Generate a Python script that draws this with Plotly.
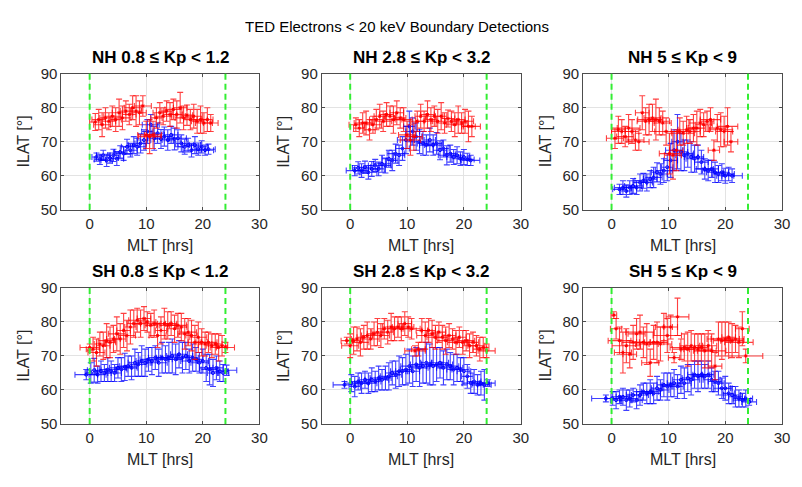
import plotly.graph_objects as go

# ---------------- data ----------------
titles = ["NH 0.8 \u2264 Kp < 1.2", "NH 2.8 \u2264 Kp < 3.2", "NH 5 \u2264 Kp < 9",
          "SH 0.8 \u2264 Kp < 1.2", "SH 2.8 \u2264 Kp < 3.2", "SH 5 \u2264 Kp < 9"]
main_title = "TED Electrons < 20 keV Boundary Detections"
x_ticks = [0, 10, 20, 30]
y_ticks = [50, 60, 70, 80, 90]
x_range = [-5, 30]
y_range = [50, 90]
mlt_lines = [0, 24]

# Panel 1: NH 0.8<=Kp<1.2
p1_blue_x = [1.2,1.8,2.4,3.0,3.6,4.2,4.8,5.4,6.0,6.6,7.2,7.8,8.4,9.0,9.6,10.2,10.8,11.4,12.0,12.6,13.2,13.8,14.4,15.0,15.6,16.2,16.8,17.4,18.0,18.6,19.2,19.8,20.4,21.0]
p1_blue_y = [65.5,64.8,66.0,64.5,65.2,66.0,65.0,67.0,66.5,68.5,67.5,69.0,68.5,69.5,70.5,73.0,75.0,71.0,72.5,70.8,71.5,70.5,72.0,70.8,71.0,69.5,68.5,69.0,67.5,69.0,67.8,68.5,67.5,67.8]
p1_blue_ye = [1.2,1.5,1.5,1.8,1.5,1.8,2.0,1.8,2.0,2.2,2.0,2.5,2.5,2.8,3.0,3.5,3.0,3.5,3.0,2.8,2.8,3.0,2.5,3.2,2.5,2.5,2.2,2.0,2.0,2.5,1.8,1.8,1.5,1.5]
p1_blue_xe = [0.8,1.0,1.2,1.0,1.5,1.0,1.2,1.0,1.5,1.0,1.2,1.0,1.5,1.0,1.2,1.0,1.5,1.2,1.0,1.2,1.5,1.0,1.2,1.0,1.5,1.0,1.2,1.0,1.5,1.0,1.2,1.0,1.5,1.2]
p1_red_x = [1.0,1.6,2.2,2.8,3.4,4.0,4.6,5.2,5.8,6.4,7.0,7.6,8.2,8.8,9.4,10.0,10.6,11.2,11.8,12.4,13.0,13.6,14.2,14.8,15.4,16.0,16.6,17.2,17.8,18.4,19.0,19.6,20.2,20.8,21.4]
p1_red_y = [75.8,76.5,75.0,77.0,76.0,77.5,76.5,78.5,77.0,79.0,78.0,80.0,79.0,78.5,80.5,72.0,71.5,72.0,77.0,78.5,77.5,79.0,78.0,79.5,78.0,80.0,77.0,77.8,76.5,77.5,76.0,76.5,75.5,76.5,75.5]
p1_red_ye = [2.5,3.0,3.5,3.0,2.5,3.0,3.5,4.0,3.5,3.0,3.0,3.5,4.5,3.5,3.0,4.0,5.0,4.0,3.0,3.0,2.5,3.0,3.5,3.0,4.0,4.5,3.5,3.0,3.0,3.5,3.5,4.0,3.0,3.5,2.5]
p1_red_xe = [1.0,1.2,1.5,1.0,1.2,1.5,1.0,1.2,1.5,1.0,1.2,1.5,1.0,1.2,1.5,1.5,2.0,1.5,1.0,1.2,1.5,1.0,1.2,1.5,1.0,1.2,1.5,1.0,1.2,1.5,1.0,1.2,1.5,1.0,1.3]

# Panel 2: NH 2.8<=Kp<3.2
p2_blue_x = [0.8,1.4,2.0,2.6,3.2,3.8,4.4,5.0,5.6,6.2,6.8,7.4,8.0,8.6,9.2,9.8,10.4,11.0,11.6,12.2,12.8,13.4,14.0,14.6,15.2,15.8,16.4,17.0,17.6,18.2,18.8,19.4,20.0,20.6,21.2]
p2_blue_y = [61.5,62.3,61.5,62.5,61.0,62.0,63.0,62.0,63.5,63.0,65.0,64.5,66.5,66.0,68.0,70.5,74.5,73.0,71.5,70.0,69.5,69.0,70.5,69.0,69.5,67.5,68.0,66.0,66.5,65.5,66.0,65.0,65.5,64.8,64.5]
p2_blue_ye = [1.5,1.8,2.0,1.8,2.0,2.2,1.8,2.0,2.5,2.2,2.5,3.0,2.8,3.0,3.5,4.0,4.5,4.0,4.0,3.5,3.5,3.0,3.5,3.0,3.2,2.8,2.5,2.8,2.5,2.2,2.5,2.0,2.2,1.8,1.5]
p2_blue_xe = [1.5,1.0,1.2,1.0,1.5,1.0,1.2,1.0,1.5,1.0,1.2,1.0,1.5,1.0,1.2,1.5,1.0,1.2,1.0,1.5,1.0,1.2,1.0,1.5,1.0,1.2,1.0,1.5,1.0,1.2,1.0,1.5,1.0,1.2,1.6]
p2_red_x = [1.0,1.6,2.2,2.8,3.4,4.0,4.6,5.2,5.8,6.4,7.0,7.6,8.2,8.8,9.4,10.0,10.6,11.2,11.8,12.4,13.0,13.6,14.2,14.8,15.4,16.0,16.6,17.2,17.8,18.4,19.0,19.6,20.2,20.8,21.4]
p2_red_y = [75.0,74.0,75.5,75.5,73.5,75.0,76.5,77.5,76.0,78.0,77.5,76.5,78.5,77.0,76.5,72.0,70.5,71.5,76.0,77.5,76.0,78.0,76.5,77.5,76.0,77.5,75.5,76.8,76.0,75.0,76.5,75.5,76.0,74.5,74.5]
p2_red_ye = [2.0,2.5,3.0,3.5,3.0,2.5,3.0,3.5,3.0,3.5,3.0,4.0,3.5,3.0,3.5,4.0,4.5,4.0,3.0,3.5,3.0,4.0,3.5,3.0,3.5,4.0,3.0,2.5,3.0,3.5,4.0,3.0,3.5,4.5,3.0]
p2_red_xe = [1.2,1.0,1.5,1.2,1.0,1.5,1.2,1.0,1.5,1.2,1.0,1.5,1.2,1.0,1.5,1.5,1.8,1.5,1.2,1.0,1.5,1.2,1.0,1.5,1.2,1.0,1.5,1.2,1.0,1.5,1.2,1.0,1.5,1.2,1.5]

# Panel 3: NH 5<=Kp<9
p3_blue_x = [1.4,2.0,2.6,3.2,3.8,4.4,5.0,5.6,6.2,6.8,7.4,8.0,8.6,9.2,9.8,10.4,11.0,11.6,12.2,12.8,13.4,14.0,14.6,15.2,15.8,16.4,17.0,17.6,18.2,18.8,19.4,20.0,20.6,21.2]
p3_blue_y = [56.0,56.5,55.5,56.5,57.0,56.5,58.0,58.5,58.0,59.0,59.5,61.0,60.5,61.5,62.5,64.5,67.5,70.0,67.0,66.0,66.5,65.5,65.0,65.5,64.0,62.0,61.5,62.0,61.0,60.5,61.0,60.0,60.5,60.0]
p3_blue_ye = [1.5,2.0,1.8,2.0,2.2,2.0,2.5,2.2,2.5,2.5,3.0,2.8,3.0,3.5,4.0,5.0,6.0,8.0,5.5,4.5,4.0,4.5,4.0,3.5,3.5,3.0,3.0,2.5,3.0,2.5,2.5,2.2,2.0,2.0]
p3_blue_xe = [1.2,1.5,1.0,1.2,1.5,1.0,1.2,1.5,1.0,1.2,1.5,1.0,1.2,1.5,1.0,1.2,1.5,1.0,1.2,1.5,1.0,1.2,1.5,1.0,1.2,1.5,1.0,1.2,1.5,1.0,1.2,1.5,1.0,1.8]
p3_red_x = [0.6,1.2,1.8,2.4,3.0,3.6,4.2,4.8,5.4,6.0,6.6,7.2,7.8,8.4,9.0,9.6,10.2,10.8,11.4,12.0,12.6,13.2,13.8,14.4,15.0,15.6,16.2,16.8,17.4,18.0,18.6,19.2,19.8,20.4,21.0]
p3_red_y = [71.0,73.5,73.0,71.5,74.0,73.0,70.5,70.0,78.5,76.0,76.5,77.0,76.5,76.0,75.5,73.0,66.5,66.0,67.5,73.0,72.5,73.5,73.0,74.0,74.0,75.5,75.0,76.0,76.5,67.5,74.0,73.5,73.0,74.5,70.0]
p3_red_ye = [3.0,4.0,3.5,3.0,4.0,3.5,3.0,2.5,5.0,4.0,4.5,4.0,6.0,4.0,3.5,4.0,6.0,7.0,6.0,4.0,3.5,4.0,3.5,4.0,5.0,4.0,3.5,3.0,3.5,3.0,4.0,5.0,4.5,5.5,3.0]
p3_red_xe = [1.5,1.2,1.8,1.5,2.0,1.2,1.5,1.8,1.2,1.5,2.0,1.5,1.2,1.8,1.5,2.0,1.8,1.5,1.2,1.5,2.0,1.5,1.8,1.2,1.5,2.0,1.5,1.2,1.8,1.0,1.5,2.0,1.5,1.8,1.2]

# Panel 4: SH 0.8<=Kp<1.2
p4_blue_x = [-0.6,0.2,0.8,1.4,2.0,2.6,3.2,3.8,4.4,5.0,5.6,6.2,6.8,7.4,8.0,8.6,9.2,9.8,10.4,11.0,11.6,12.2,12.8,13.4,14.0,14.6,15.2,15.8,16.4,17.0,17.6,18.2,18.8,19.4,20.0,20.6,21.2,21.8,22.4,23.0,23.6,24.2]
p4_blue_y = [64.5,65.0,65.8,64.5,65.5,65.0,66.0,65.5,65.0,66.5,66.0,66.8,67.0,66.5,68.0,67.5,68.5,68.0,69.0,68.5,69.5,68.0,69.5,69.0,69.5,70.0,69.0,70.5,69.5,70.0,68.5,69.5,69.0,68.0,68.5,66.5,66.0,65.0,66.5,65.5,65.0,65.8]
p4_blue_ye = [1.5,3.0,3.5,2.5,3.0,2.5,3.5,3.0,2.5,3.0,3.5,4.0,3.0,3.5,4.0,3.5,4.5,4.0,3.5,4.0,3.5,4.0,4.5,4.0,4.5,5.0,4.5,4.0,4.5,4.0,3.5,4.0,3.5,3.0,3.5,4.0,4.5,4.0,3.5,3.0,2.5,1.5]
p4_blue_xe = [2.0,1.0,1.2,1.5,1.0,1.2,1.5,1.0,1.2,1.5,1.0,1.2,1.5,1.0,1.2,1.5,1.0,1.2,1.5,1.0,1.2,1.5,1.0,1.2,1.5,1.0,1.2,1.5,1.0,1.2,1.5,1.0,1.2,1.5,1.0,1.2,1.5,1.0,1.2,1.5,1.0,1.8]
p4_red_x = [0.0,0.6,1.2,1.8,2.4,3.0,3.6,4.2,4.8,5.4,6.0,6.6,7.2,7.8,8.4,9.0,9.6,10.2,10.8,11.4,12.0,12.6,13.2,13.8,14.4,15.0,15.6,16.2,16.8,17.4,18.0,18.6,19.2,19.8,20.4,21.0,21.6,22.2,22.8,23.4,24.0]
p4_red_y = [72.5,72.0,71.0,73.5,73.0,74.5,74.0,75.0,76.5,75.0,77.5,76.0,78.5,79.5,80.5,79.5,81.0,80.0,79.0,79.5,76.0,77.5,79.5,79.0,79.5,78.0,79.0,78.5,76.5,77.0,76.0,74.0,75.5,74.0,73.5,74.0,73.0,73.5,72.5,73.0,72.5]
p4_red_ye = [1.0,3.5,4.0,3.5,4.0,5.0,4.5,4.0,5.0,4.5,5.0,4.5,5.0,4.0,3.5,4.0,3.5,3.0,3.5,4.0,3.5,4.0,4.5,4.0,3.5,4.0,3.5,4.0,4.5,4.0,4.5,5.0,4.5,4.0,3.5,3.0,3.5,3.0,4.0,3.0,1.5]
p4_red_xe = [1.7,1.2,1.5,1.0,1.2,1.5,1.0,1.2,1.5,1.0,1.2,1.5,1.0,1.2,1.5,1.0,1.2,1.5,1.0,1.2,1.5,1.0,1.2,1.5,1.0,1.2,1.5,1.0,1.2,1.5,1.0,1.2,1.5,1.0,1.2,1.5,1.0,1.2,1.5,1.0,1.6]

# Panel 5: SH 2.8<=Kp<3.2
p5_blue_x = [-1.0,0.2,0.8,1.4,2.0,2.6,3.2,3.8,4.4,5.0,5.6,6.2,6.8,7.4,8.0,8.6,9.2,9.8,10.4,11.0,11.6,12.2,12.8,13.4,14.0,14.6,15.2,15.8,16.4,17.0,17.6,18.2,18.8,19.4,20.0,20.6,21.2,21.8,22.4,23.0,23.6,24.2]
p5_blue_y = [61.5,62.0,61.0,62.5,62.0,63.0,62.0,63.0,62.5,63.5,63.0,63.5,64.0,65.0,64.5,65.5,65.5,66.0,67.0,65.5,67.5,66.5,67.0,68.0,67.5,67.0,67.5,68.0,66.5,67.5,67.0,66.0,66.5,66.0,65.5,64.0,62.0,62.5,61.5,62.0,61.5,62.0]
p5_blue_ye = [1.0,2.5,3.0,2.5,3.0,2.5,3.0,3.5,3.0,3.5,3.0,3.5,4.0,3.5,4.0,4.5,4.0,4.5,5.0,4.5,5.0,5.5,5.0,6.0,6.0,5.5,5.0,4.5,5.0,4.5,4.0,4.5,4.0,3.5,4.0,3.5,3.0,3.5,3.0,3.5,4.5,1.0]
p5_blue_xe = [2.0,1.2,1.0,1.5,1.2,1.0,1.5,1.2,1.0,1.5,1.2,1.0,1.5,1.2,1.0,1.5,1.2,1.0,1.5,1.2,1.0,1.5,1.2,1.0,1.5,1.2,1.0,1.5,1.2,1.0,1.5,1.2,1.0,1.5,1.2,1.0,1.5,1.2,1.0,1.5,1.2,1.3]
p5_red_x = [-0.6,0.0,0.6,1.2,1.8,2.4,3.0,3.6,4.2,4.8,5.4,6.0,6.6,7.2,7.8,8.4,9.0,9.6,10.2,10.8,11.4,12.0,12.6,13.2,13.8,14.4,15.0,15.6,16.2,16.8,17.4,18.0,18.6,19.2,19.8,20.4,21.0,21.6,22.2,22.8,23.4,24.0]
p5_red_y = [74.5,73.0,74.5,75.0,74.0,75.5,76.0,75.0,76.5,77.0,76.0,78.0,77.0,78.5,78.0,78.5,78.0,79.5,78.5,78.0,71.5,72.0,77.5,76.0,77.5,76.5,75.5,77.0,75.5,74.5,76.0,75.0,74.0,75.5,74.0,74.5,73.0,74.0,73.0,72.0,72.5,71.5]
p5_red_ye = [1.0,3.5,4.0,3.5,4.0,3.5,4.0,3.0,3.5,4.0,3.5,3.0,3.5,4.0,3.5,3.0,3.5,3.5,3.0,3.0,1.5,2.0,3.5,4.0,3.5,4.0,3.5,3.0,3.5,4.0,3.5,3.0,3.5,3.0,3.5,3.0,3.5,3.0,3.0,3.5,3.0,2.0]
p5_red_xe = [1.0,1.5,1.2,1.0,1.5,1.2,1.0,1.5,1.2,1.0,1.5,1.2,1.0,1.5,1.2,1.0,1.5,1.2,1.0,1.5,1.8,1.2,1.0,1.5,1.2,1.0,1.5,1.2,1.0,1.5,1.2,1.0,1.5,1.2,1.0,1.5,1.2,1.0,1.5,1.2,1.0,1.5]

# Panel 6: SH 5<=Kp<9
p6_blue_x = [-1.0,0.2,0.8,1.4,2.0,2.6,3.2,3.8,4.4,5.0,5.6,6.2,6.8,7.4,8.0,8.6,9.2,9.8,10.4,11.0,11.6,12.2,12.8,13.4,14.0,14.6,15.2,15.8,16.4,17.0,17.6,18.2,18.8,19.4,20.0,20.6,21.2,21.8,22.4,23.0,23.6,24.2]
p6_blue_y = [57.5,57.5,57.0,58.0,58.0,57.0,57.5,58.5,57.0,58.5,59.5,59.0,59.5,59.0,60.5,60.0,61.5,61.0,61.5,62.0,61.0,63.0,62.0,63.5,63.0,64.5,64.0,64.5,64.0,64.5,63.0,62.5,62.0,60.5,60.5,59.0,58.5,58.0,57.5,57.0,57.5,56.5]
p6_blue_ye = [1.0,2.0,2.5,2.0,2.5,3.0,2.5,2.0,2.5,3.0,2.5,3.0,3.5,3.0,3.5,3.0,3.5,4.0,3.5,4.0,3.5,4.0,4.5,4.0,4.5,4.0,4.5,4.0,3.5,4.0,3.5,3.0,3.5,3.0,3.5,3.0,2.5,3.0,2.5,2.0,2.5,1.0]
p6_blue_xe = [2.5,1.2,1.0,1.5,1.2,1.0,1.5,1.2,1.0,1.5,1.2,1.0,1.5,1.2,1.0,1.5,1.2,1.0,1.5,1.2,1.0,1.5,1.2,1.0,1.5,1.2,1.0,1.5,1.2,1.0,1.5,1.2,1.0,1.5,1.2,1.0,1.5,1.2,1.0,1.5,1.2,1.3]
p6_red_x = [0.4,0.8,1.4,2.0,2.6,3.2,3.8,4.4,5.0,5.6,6.2,6.8,7.4,8.0,8.6,9.2,9.8,10.4,11.0,11.6,12.2,12.8,13.4,14.0,14.6,15.2,15.8,16.4,17.0,17.6,18.2,18.8,19.4,20.0,20.6,21.2,21.8,22.4,23.0,23.6]
p6_red_y = [82.0,78.0,74.5,71.0,73.0,70.5,74.0,76.5,77.0,74.0,73.5,68.0,74.0,74.0,73.5,78.5,76.0,78.5,69.5,81.5,72.0,72.5,72.0,73.0,72.5,72.0,72.5,71.5,73.0,71.5,67.0,75.0,74.5,75.0,75.5,74.5,75.0,74.0,78.0,70.0]
p6_red_ye = [1.0,3.0,4.0,6.0,5.0,4.0,5.0,4.5,5.0,4.5,6.0,4.0,5.0,6.0,5.0,4.0,5.0,3.5,1.5,5.5,3.0,4.0,5.0,4.5,4.0,4.5,4.0,5.0,4.5,5.0,4.0,5.0,5.5,5.0,4.5,5.0,4.0,4.5,5.0,2.0]
p6_red_xe = [0.5,1.0,2.0,1.5,2.5,1.2,2.0,1.5,2.5,1.2,2.0,1.5,2.5,1.2,2.0,1.5,2.5,1.2,1.0,2.0,1.5,2.5,1.2,2.0,1.5,2.5,1.2,2.0,1.5,2.5,1.2,2.0,1.5,2.5,1.2,2.0,1.5,2.5,1.2,3.0]

panels = [
    (p1_blue_x, p1_blue_y, p1_blue_xe, p1_blue_ye, p1_red_x, p1_red_y, p1_red_xe, p1_red_ye),
    (p2_blue_x, p2_blue_y, p2_blue_xe, p2_blue_ye, p2_red_x, p2_red_y, p2_red_xe, p2_red_ye),
    (p3_blue_x, p3_blue_y, p3_blue_xe, p3_blue_ye, p3_red_x, p3_red_y, p3_red_xe, p3_red_ye),
    (p4_blue_x, p4_blue_y, p4_blue_xe, p4_blue_ye, p4_red_x, p4_red_y, p4_red_xe, p4_red_ye),
    (p5_blue_x, p5_blue_y, p5_blue_xe, p5_blue_ye, p5_red_x, p5_red_y, p5_red_xe, p5_red_ye),
    (p6_blue_x, p6_blue_y, p6_blue_xe, p6_blue_ye, p6_red_x, p6_red_y, p6_red_xe, p6_red_ye),
]

# ---------------- layout / styling ----------------
W, H = 802, 487
col_px = [(62, 262), (325, 526), (589, 790)]
row_px = [(67, 208), (289, 430)]
FONT = "Liberation Sans, Arial, sans-serif"
TXT = "#262626"
BLUE = "rgba(0,0,255,0.75)"
RED = "rgba(255,0,0,0.75)"

fig = go.Figure()
annotations = []
shapes = []

for i, (bx, by, bxe, bye, rx, ry, rxe, rye) in enumerate(panels):
    r, c = divmod(i, 3)
    n = i + 1
    xa = "x" if n == 1 else f"x{n}"
    ya = "y" if n == 1 else f"y{n}"
    for (xs, ys, xe, ye, col, solid, sym) in [
        (bx, by, bxe, bye, BLUE, "#0000ff", "circle-open"),
        (rx, ry, rxe, rye, RED, "#ff0000", "asterisk-open"),
    ]:
        fig.add_trace(go.Scatter(
            x=xs, y=ys, mode="markers", xaxis=xa, yaxis=ya, showlegend=False,
            marker=dict(symbol=sym, size=3, color=solid, line=dict(width=1, color=col)),
            error_x=dict(type="data", array=xe, visible=True, color=col, thickness=1.1, width=3),
            error_y=dict(type="data", array=ye, visible=True, color=col, thickness=1.1, width=3),
        ))
    x0, x1 = col_px[c]
    y0, y1 = row_px[r]
    axis_common = dict(showgrid=True, gridcolor="#e3e3e3", gridwidth=1, zeroline=False,
                       showline=True, linecolor="#4d4d4d", linewidth=1, mirror="ticks",
                       ticks="inside", ticklen=3, tickcolor="#4d4d4d",
                       tickfont=dict(family=FONT, size=15, color=TXT))
    fig.update_layout(**{
        ("xaxis" if n == 1 else f"xaxis{n}"): dict(
            domain=[x0 / W, x1 / W], range=x_range, tickvals=x_ticks, anchor=ya, **axis_common),
        ("yaxis" if n == 1 else f"yaxis{n}"): dict(
            domain=[1 - y1 / H, 1 - y0 / H], range=y_range, tickvals=y_ticks, anchor=xa, **axis_common),
    })
    for mv in mlt_lines:
        shapes.append(dict(type="line", xref=xa, yref=f"{ya} domain", x0=mv, x1=mv, y0=0, y1=1,
                           line=dict(color="#33ee33", width=2, dash="6px,4px"), layer="above"))
    cx = (x0 + x1) / 2 / W
    annotations.append(dict(text=f"<b>{titles[i]}</b>", x=cx, y=1 - (y0 - 17) / H, xref="paper", yref="paper",
                            showarrow=False, xanchor="center", yanchor="middle",
                            font=dict(family=FONT, size=17, color="#000000")))
    annotations.append(dict(text="MLT [hrs]", x=cx, y=1 - (y1 + 37) / H, xref="paper", yref="paper",
                            showarrow=False, xanchor="center", yanchor="middle",
                            font=dict(family=FONT, size=16, color=TXT)))
    annotations.append(dict(text="ILAT [\u00b0]", x=(x0 - 38) / W, y=1 - ((y0 + y1) / 2) / H,
                            xref="paper", yref="paper", textangle=-90,
                            showarrow=False, xanchor="center", yanchor="middle",
                            font=dict(family=FONT, size=16, color=TXT)))

annotations.append(dict(text=main_title, x=0.5, y=1 - 18 / H, xref="paper", yref="paper",
                        showarrow=False, xanchor="center", yanchor="middle",
                        font=dict(family=FONT, size=15, color="#000000")))

fig.update_layout(width=W, height=H, margin=dict(l=0, r=0, t=0, b=0),
                  paper_bgcolor="white", plot_bgcolor="white",
                  annotations=annotations, shapes=shapes, showlegend=False)

fig.write_html("out.html", config={"displayModeBar": False})
